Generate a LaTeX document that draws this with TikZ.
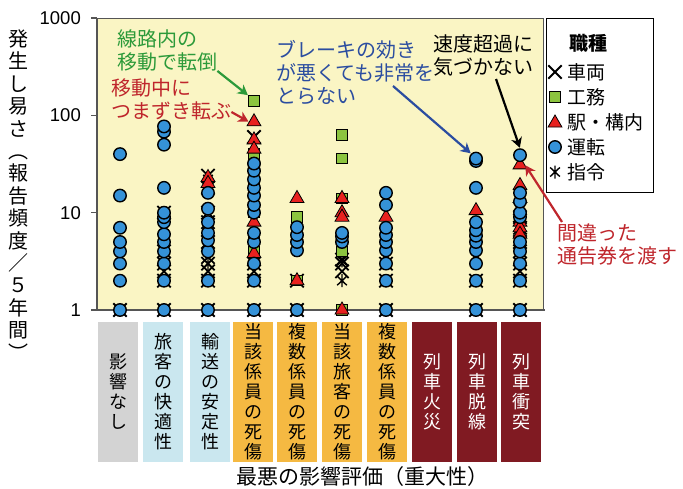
\documentclass[tikz,border=0pt]{standalone}
\usepackage{fontspec}
\setmainfont{Liberation Sans}
\newfontfamily\jp{Noto Sans CJK JP}
\usepackage{tikz}
\usetikzlibrary{shapes.geometric, shapes.misc, positioning}
\usetikzlibrary{arrows.meta}
\tikzset{>=stealth}
\usepackage{xcolor}
\definecolor{plotbg}{HTML}{FAF5C4}
\definecolor{axisgray}{HTML}{555555}
\definecolor{ptblue}{HTML}{3592D8}
\definecolor{ptgreen}{HTML}{8CC43F}
\definecolor{ptred}{HTML}{E8211F}
\definecolor{catgray}{HTML}{D3D3D3}
\definecolor{catblue}{HTML}{CAE7EF}
\definecolor{catorange}{HTML}{F5B942}
\definecolor{catred}{HTML}{801A22}
\definecolor{annogreen}{HTML}{2C9A3A}
\definecolor{annored}{HTML}{BF262C}
\definecolor{annoblue}{HTML}{2B4DA0}
\tikzset{
	circ/.style={circle, draw, fill=ptblue, line width=1.4pt, minimum size=12.5pt, inner sep=0pt},
	sq/.style={rectangle, draw, fill=ptgreen, line width=1pt, minimum size=10.5pt, inner sep=0pt},
	tri/.style={regular polygon, regular polygon sides=3, draw, fill=ptred, line width=0.8pt, minimum size=16pt, inner sep=0pt},
	crs/.style={cross out, draw, line width=1.8pt, minimum size=11.5pt, inner sep=0pt},
	pics/astmark/.style={code={\draw[line width=1.4pt] (0,-6.5) -- (0,6.5) (-4.8,-4.5) -- (4.8,4.5) (-4.8,4.5) -- (4.8,-4.5);}},
	ticklab/.style={font=\fontsize{18.5}{18.5}\selectfont, inner sep=0pt},
	catbox/.style={minimum width=40pt, minimum height=140pt, inner sep=0pt, align=center, font=\jp\fontsize{18}{20}\selectfont},
	anno/.style={font=\jp\fontsize{20}{23}\selectfont, align=left, inner sep=0pt, anchor=west},
	annoarrow/.style={line width=2.2pt, -{Stealth[length=10pt,width=11pt,inset=3pt]}, shorten >=0.5pt},
	legtext/.style={font=\jp\fontsize{19}{19}\selectfont, inner sep=0pt, anchor=west}
}

\begin{document}
\begin{tikzpicture}[x=1pt,y=-1pt,
	declare function={ly(\v)=310-42.26*ln(\v);}]
	\useasboundingbox (0,0) rectangle (683,488);
	\draw [axisgray, fill=plotbg] (97,18) rectangle (543,310);
	\draw [axisgray, line width=1.5pt] (97,18) -- (97,310) -- (545,310);
	\foreach \v in {1,10,100,1000} {
		\draw [axisgray, line width=1.2pt] (91,{ly(\v)}) -- (97,{ly(\v)});
		\node [ticklab, anchor=east] (tick\v) at (81,{ly(\v)}) {\v};
	}
	\node [font=\jp\fontsize{20}{22.4}\selectfont, align=center, inner sep=0pt] (ylab) at (19,195)
		{発\\生\\し\\易\\さ\\︵\\報\\告\\頻\\度\\／\\５\\年\\間\\︶};
	\foreach \cx/\vals in {120/{1},164/{1,2,2.5,3,4,10},208/{1,2,2.5,3,3.5,5,8,10,18,24},
			254/{1,2,2.5,3,60},297/{1,2},342/{2.5,3,3.3},386/{1,2,3},476/{1,2},520/{1,2,2.5,3,4,5,7,9,11}}
		\foreach \v [count=\i] in \vals
			\node [crs] (x\cx-\i) at (\cx,{ly(\v)}) {};
	\foreach \cx/\v in {208/3,208/22,342/2,342/3.2,520/6,520/7.5,520/8.5}
		\pic at (\cx,{ly(\v)}) {astmark};
	\foreach \cx/\vals in {254/{40,30,20,10,6,4},297/{2,9},342/{63,36,14,4,1}}
		\foreach \v [count=\i] in \vals
			\node [sq] (s\cx-\i) at (\cx,{ly(\v)}) {};
	\node [sq] (sqtop) at (254,{ly(140)}) {};
	\foreach \cx/\vals in {208/{23,20},254/{56,45,8,3.8},297/{2,14},342/{1,14,10,9},386/{9},476/{10.5},520/{19,14,8,7,6}}
		\foreach \v [count=\i] in \vals
			\node [tri] (r\cx-\i) at (\cx,{ly(\v)}) {};
	\node [tri] (trtop) at (254,{ly(86)}) {};
	\node [tri] (trbot) at (520,{ly(31)}) {};
	\foreach \cx/\vals in {120/{1,2,3,4,5,7,15,40},164/{1,2,3,4,5,6,8,9,10,18,50,68,77},
			208/{1,2,4,5.2,6.2,8,11,16},254/{1,2,3,5,6.2,10,12,15,18,22,27,32},297/{1,4.1,5,5.9,7.1},
			342/{5,5.7,6.2},386/{1,2,3,4.1,5,5.9,7,12,16},476/{1,2,3,4.1,5,5.8,6.6,8,18,34},520/{1,2,3,4,5,9,10,13,16}}
		\foreach \v [count=\i] in \vals
			\node [circ] (c\cx-\i) at (\cx,{ly(\v)}) {};
	\node [circ] (cblue) at (476,{ly(36)}) {};
	\node [circ] (cblack) at (520,{ly(39)}) {};
	\foreach \cx/\col/\tc/\lab [count=\i] in {118/catgray/black/{影\\響\\な\\し},163/catblue/black/{旅\\客\\の\\快\\適\\性},
			210/catblue/black/{輸\\送\\の\\安\\定\\性},253/catorange/black/{当\\該\\係\\員\\の\\死\\傷},
			297/catorange/black/{複\\数\\係\\員\\の\\死\\傷},342/catorange/black/{当\\該\\旅\\客\\の\\死\\傷},
			387/catorange/black/{複\\数\\係\\員\\の\\死\\傷},432/catred/white/{列\\車\\火\\災},
			477/catred/white/{列\\車\\脱\\線},521/catred/white/{列\\車\\衝\\突}}
		\node [catbox, fill=\col, text=\tc] (cat\i) at (\cx,392) {\lab};
	\node [font=\jp\fontsize{21}{21}\selectfont, inner sep=0pt] (xlab) at (362,477) {最悪の影響評価（重大性）};
	\node [anno, text=annogreen] (tgreen) at (117,50) {線路内の\\移動で転倒};
	\node [anno, text=annored] (tred) at (111,99) {移動中に\\つまずき転ぶ};
	\node [anno, text=annoblue] (tblue) at (276,73) {ブレーキの効き\\が悪くても非常を\\とらない};
	\node [anno, text=black] (tblack) at (433,55) {速度超過に\\気づかない};
	\node [anno, text=annored] (tmiss) at (557,244) {間違った\\通告券を渡す};
	\coordinate (bstart) at (393,86);
	\coordinate (kstart) at (496,79);
	\coordinate (rstart) at (562,222);
	\draw [annoarrow, annogreen] (tgreen.south east) -- (sqtop.north west);
	\draw [annoarrow, annored] ([yshift=-13pt]tred.east) -- (trtop.west);
	\draw [annoarrow, annoblue] (bstart) -- (cblue.north west);
	\draw [annoarrow, black] (kstart) -- (cblack.north);
	\draw [annoarrow, annored] (rstart) -- (trbot.east);
	\node [draw, fill=white, line width=1pt, minimum width=107pt, minimum height=174pt, inner sep=0pt] (legbox) at (599.5,105) {};
	\node [font=\jp\bfseries\fontsize{19}{19}\selectfont, inner sep=0pt] (legtitle) at (588,43) {職種};
	\node [crs] (lcrs) at (555,72) {};
	\node [sq] (lsq) at (555,97) {};
	\node [tri] (ltri) at (555,123) {};
	\node [circ] (lcirc) at (555,147) {};
	\pic at (555,172) {astmark};
	\node [legtext] (l1) at (567,72) {車両};
	\node [legtext] (l2) at (567,97) {工務};
	\node [legtext] (l3) at (567,122) {駅・構内};
	\node [legtext] (l4) at (567,147) {運転};
	\node [legtext] (l5) at (567,172) {指令};
\end{tikzpicture}
\end{document}
